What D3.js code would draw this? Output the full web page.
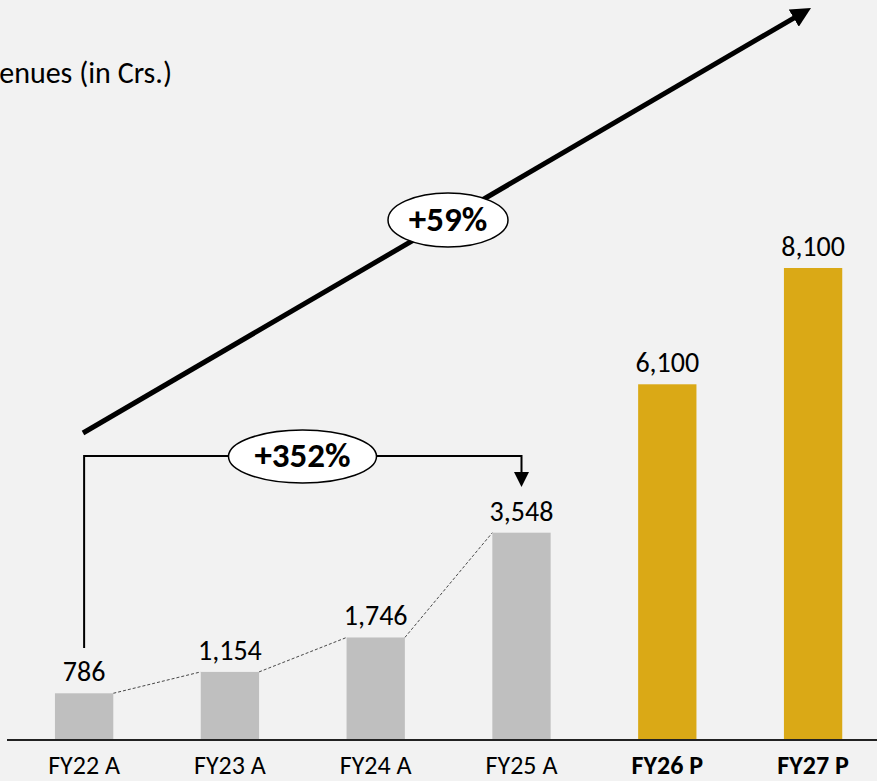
<!DOCTYPE html>
<html><head><meta charset="utf-8">
<script src="https://cdn.jsdelivr.net/npm/d3@7/dist/d3.min.js"></script>
<style>
html,body{margin:0;padding:0;background:#F2F2F2;}
svg{display:block;}
text{font-family:Carlito,Lato,"Open Sans",sans-serif;}
</style></head>
<body><svg id="c" width="877" height="781"></svg>
<script>
const categories = ["FY22 A","FY23 A","FY24 A","FY25 A","FY26 P","FY27 P"];
const values = [786,1154,1746,3548,6100,8100];
const projected = [false,false,false,false,true,true];
const valueLabels = ["786","1,154","1,746","3,548","6,100","8,100"];
const title = "Revenues (in Crs.)";
const growthLabels = ["+59%","+352%"];

const W=877,H=781;
const svg=d3.select("#c");
svg.append("rect").attr("width",W).attr("height",H).attr("fill","#F2F2F2");
const defs=svg.append("defs");
defs.append("marker").attr("id","bigHead").attr("viewBox","0 0 10 10").attr("refX",2).attr("refY",5)
  .attr("markerWidth",20).attr("markerHeight",20).attr("orient","auto").attr("markerUnits","userSpaceOnUse")
  .append("path").attr("d","M0,0 L10,5 L0,10 Z").attr("fill","#000");
defs.append("marker").attr("id","smallHead").attr("viewBox","0 0 10 10").attr("refX",5).attr("refY",5)
  .attr("markerWidth",15).attr("markerHeight",15).attr("orient","auto").attr("markerUnits","userSpaceOnUse")
  .append("path").attr("d","M0,0 L10,5 L0,10 Z").attr("fill","#000");

const base=739;
const x=d3.scaleBand().domain(categories).range([25.8,871.4]).paddingInner(0.6).paddingOuter(0.2);
const y=d3.scaleLinear().domain([0,8100]).range([base,268]);

const data=categories.map((c,i)=>({c,v:values[i],p:projected[i],l:valueLabels[i]}));

// dashed connectors between actual bars
for(let i=0;i<3;i++){
  svg.append("line")
    .attr("x1",x(categories[i])+x.bandwidth()).attr("y1",y(values[i]))
    .attr("x2",x(categories[i+1])).attr("y2",y(values[i+1]))
    .attr("stroke","#333").attr("stroke-width",0.9).attr("stroke-dasharray","3,2");
}

svg.selectAll("rect.bar").data(data).join("rect").attr("class","bar")
  .attr("x",d=>x(d.c)).attr("width",x.bandwidth())
  .attr("y",d=>y(d.v)).attr("height",d=>base-y(d.v))
  .attr("fill",d=>d.p?"#DAA916":"#BFBFBF");

svg.selectAll("text.val").data(data).join("text").attr("class","val")
  .attr("x",d=>x(d.c)+x.bandwidth()/2).attr("y",d=>y(d.v)-12)
  .attr("text-anchor","middle").attr("font-size",28).attr("fill","#000").text(d=>d.l);

// axis
const axis=d3.axisBottom(x).tickSize(0).tickPadding(0);
const ag=svg.append("g").attr("transform",`translate(0,${base})`).call(axis);
ag.select(".domain").remove();
ag.selectAll("text").attr("font-size",26).attr("fill","#000").attr("dy",null).attr("y",35)
  .attr("font-weight",(d,i)=>projected[i]?"bold":"normal")
  .style("font-family","Carlito,Lato,'Open Sans',sans-serif");
svg.append("line").attr("x1",7).attr("x2",W).attr("y1",base+1).attr("y2",base+1)
  .attr("stroke","#222").attr("stroke-width",2);

// title
svg.append("text").attr("x",172).attr("y",83).attr("text-anchor","end")
  .attr("font-size",30).attr("fill","#000").text(title);

// big CAGR arrow
const cx0=x(categories[0])+x.bandwidth()/2;
svg.append("line").attr("x1",83).attr("y1",433).attr("x2",797.2).attr("y2",16.1)
  .attr("stroke","#000").attr("stroke-width",5).attr("marker-end","url(#bigHead)");

// +352% bracket
const cx3=x(categories[3])+x.bandwidth()/2;
svg.append("path").attr("d",`M${cx0},648 L${cx0},456 L${cx3},456 L${cx3},479.5`)
  .attr("fill","none").attr("stroke","#000").attr("stroke-width",2).attr("marker-end","url(#smallHead)");

function bubble(cx,cy,rx,ry,t,fs,by){
  svg.append("ellipse").attr("cx",cx).attr("cy",cy).attr("rx",rx).attr("ry",ry)
    .attr("fill","#fff").attr("stroke","#000").attr("stroke-width",1.5);
  svg.append("text").attr("x",cx).attr("y",by).attr("text-anchor","middle")
    .attr("font-size",fs).attr("font-weight","bold").attr("fill","#000").text(t);
}
bubble(448,220,60,27,growthLabels[0],35,231);
bubble(302.5,456.5,74,26.5,growthLabels[1],35,467);
</script></body></html>
